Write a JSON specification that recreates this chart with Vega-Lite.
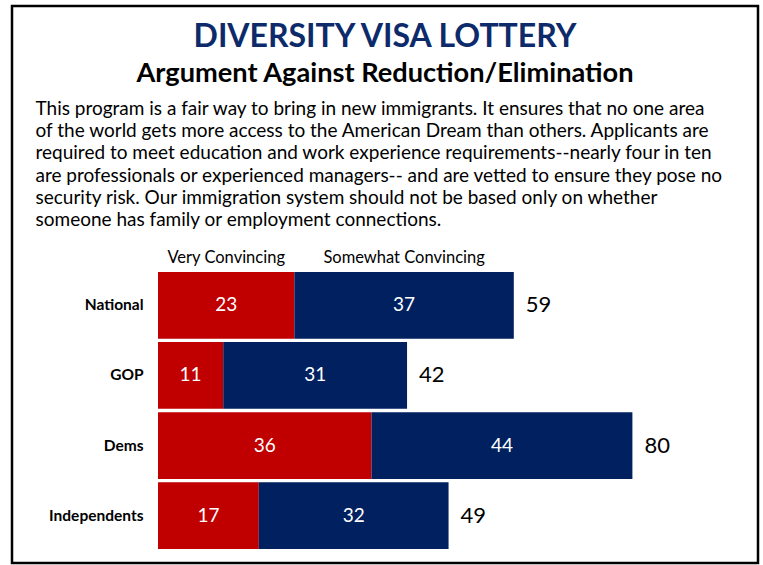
{
  "$schema": "https://vega.github.io/schema/vega-lite/v6.json",
  "autosize": {"type": "none"},
  "padding": {"left": 12, "top": 6, "right": 5, "bottom": 2},
  "width": 746,
  "height": 557,
  "background": "white",
  "config": {"view": {"stroke": "#000000", "strokeWidth": 2.5}, "font": "Lato"},
  "title": {
    "text": "DIVERSITY VISA LOTTERY",
    "subtitle": "Argument Against Reduction/Elimination",
    "anchor": "middle",
    "frame": "group",
    "offset": -82,
    "font": "Lato",
    "fontSize": 32,
    "fontWeight": "bold",
    "color": "#0d2a6b",
    "subtitleFont": "Lato",
    "subtitleFontSize": 27.2,
    "subtitleFontWeight": "bold",
    "subtitleColor": "#000000",
    "subtitlePadding": 7
  },
  "data": {
    "values": [
      {"group": "National", "series": "Very Convincing", "value": 23, "total": 59},
      {"group": "National", "series": "Somewhat Convincing", "value": 37, "total": 59},
      {"group": "GOP", "series": "Very Convincing", "value": 11, "total": 42},
      {"group": "GOP", "series": "Somewhat Convincing", "value": 31, "total": 42},
      {"group": "Dems", "series": "Very Convincing", "value": 36, "total": 80},
      {"group": "Dems", "series": "Somewhat Convincing", "value": 44, "total": 80},
      {"group": "Independents", "series": "Very Convincing", "value": 17, "total": 49},
      {"group": "Independents", "series": "Somewhat Convincing", "value": 32, "total": 49}
    ]
  },
  "encoding": {
    "y": {
      "field": "group",
      "type": "nominal",
      "sort": null,
      "scale": {
        "domain": ["National", "GOP", "Dems", "Independents"],
        "range": [266, 543],
        "paddingInner": 0.047,
        "paddingOuter": 0
      },
      "axis": {
        "offset": -146,
        "domain": false,
        "ticks": false,
        "grid": false,
        "title": null,
        "labelPadding": 15,
        "labelFont": "Lato",
        "labelFontSize": 15.5,
        "labelFontWeight": "bold",
        "labelColor": "#000000"
      }
    }
  },
  "resolve": {"axis": {"x": "independent"}},
  "layer": [
    {
      "mark": {"type": "bar"},
      "encoding": {
        "x": {
          "field": "value",
          "type": "quantitative",
          "stack": "zero",
          "scale": {"domain": [-24.62, 101.18], "nice": false, "zero": false},
          "axis": {
            "orient": "top",
            "labels": false,
            "ticks": false,
            "domain": false,
            "grid": false,
            "title": [
              "This program is a fair way to bring in new immigrants. It ensures that no one area",
              "of the world gets more access to the American Dream than others. Applicants are",
              "required to meet education and work experience requirements--nearly four in ten",
              "are professionals  or experienced  managers-- and are vetted to ensure they pose no",
              "security risk. Our immigration system should not be based only on whether",
              "someone has family or employment connections."
            ],
            "titleX": 23,
            "titleY": 93.5,
            "titleAnchor": "start",
            "titleAlign": "left",
            "titleBaseline": "top",
            "titleFont": "Lato",
            "titleFontSize": 19,
            "titleFontWeight": "normal",
            "titleColor": "#000000",
            "titleLineHeight": 22.2
          }
        },
        "color": {
          "field": "series",
          "type": "nominal",
          "scale": {"domain": ["Very Convincing", "Somewhat Convincing"], "range": ["#c00000", "#002060"]},
          "legend": null
        },
        "order": {"field": "series", "sort": "descending"}
      }
    },
    {
      "mark": {"type": "text", "color": "#ffffff", "fontSize": 19, "font": "Lato", "baseline": "middle", "align": "center"},
      "encoding": {
        "x": {"field": "value", "type": "quantitative", "stack": "zero", "bandPosition": 0.5, "axis": null},
        "detail": {"field": "series"},
        "order": {"field": "series", "sort": "descending"},
        "text": {"field": "value", "type": "quantitative"}
      }
    },
    {
      "mark": {"type": "text", "color": "#000000", "fontSize": 22, "font": "Lato", "baseline": "middle", "align": "left", "dx": 12},
      "encoding": {
        "x": {"aggregate": "sum", "field": "value", "type": "quantitative", "axis": null},
        "text": {"aggregate": "max", "field": "total", "type": "quantitative"}
      }
    },
    {
      "transform": [{"filter": "datum.group === 'National'"}],
      "mark": {"type": "text", "color": "#000000", "fontSize": 16.5, "font": "Lato", "baseline": "middle", "align": "center", "dy": -47},
      "encoding": {
        "x": {"field": "value", "type": "quantitative", "stack": "zero", "bandPosition": 0.5, "axis": null},
        "detail": {"field": "series"},
        "order": {"field": "series", "sort": "descending"},
        "text": {"field": "series", "type": "nominal"}
      }
    }
  ]
}
